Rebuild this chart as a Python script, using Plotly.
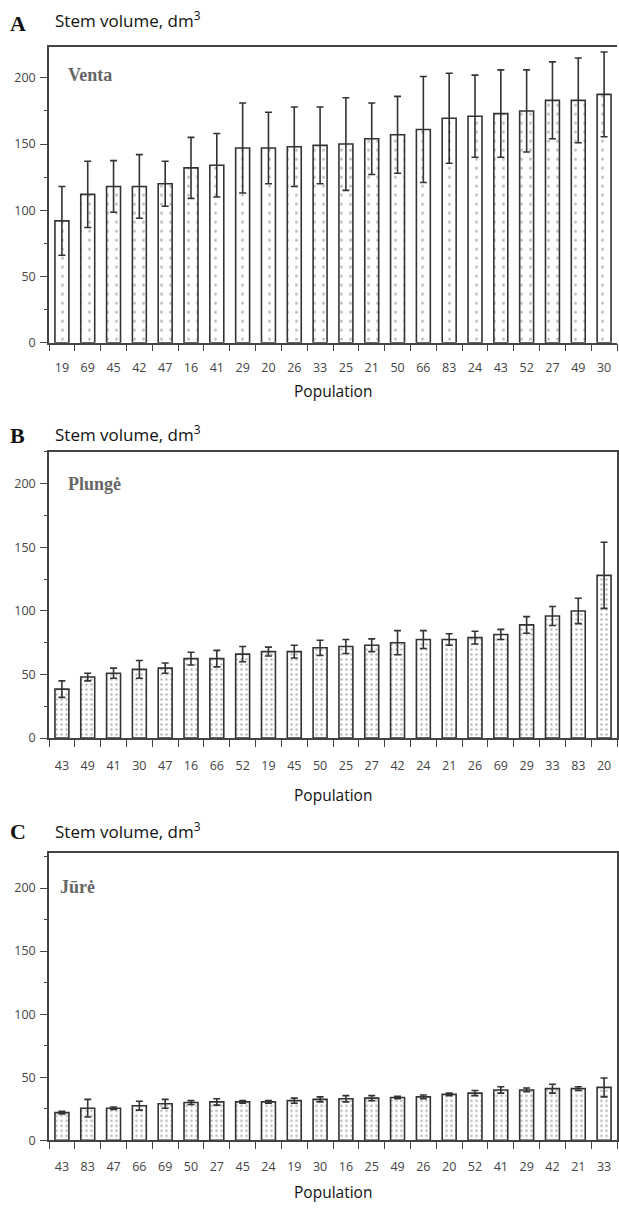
import plotly.graph_objects as go

# ---------------- data ----------------
venta_pop = ["19", "69", "45", "42", "47", "16", "41", "29", "20", "26", "33",
             "25", "21", "50", "66", "83", "24", "43", "52", "27", "49", "30"]
venta_mean = [92, 112, 118, 118, 120, 132, 134, 147, 147, 148, 149,
              150, 154, 157, 161, 169.5, 171, 173, 175, 183, 183, 187.5]
venta_err = [26, 25, 19.5, 24, 17, 23, 24, 34, 27, 30, 29,
             35, 27, 29, 40, 34, 31, 33, 31, 29, 32, 32]

plunge_pop = ["43", "49", "41", "30", "47", "16", "66", "52", "19", "45", "50",
              "25", "27", "42", "24", "21", "26", "69", "29", "33", "83", "20"]
plunge_mean = [38.5, 48, 51, 54, 55, 62.5, 62.5, 66, 68, 68, 71,
               72, 73, 75, 77.5, 77.5, 79, 81.5, 89, 96, 100, 128]
plunge_err = [6.5, 3, 4, 7, 4, 5, 6.5, 6, 3.5, 5, 6,
              5.5, 5, 9.5, 7, 4.5, 5, 4, 6.5, 7.5, 10, 26]

jure_pop = ["43", "83", "47", "66", "69", "50", "27", "45", "24", "19", "30",
            "16", "25", "49", "26", "20", "52", "41", "29", "42", "21", "33"]
jure_mean = [22, 25.5, 25.5, 27.5, 29, 30, 30.5, 30.5, 30.5, 31.5, 32.5,
             33, 33.5, 34, 34.5, 36.5, 37.5, 40, 40, 41, 41, 42]
jure_err = [1, 7, 1, 3.5, 3.5, 1.5, 2.5, 1, 1, 2, 2,
            2.5, 2, 1, 1.5, 1, 2, 2.5, 1.5, 3.5, 1.5, 7.5]

panel_letters = ["A", "B", "C"]
panel_names = ["Venta", "Plungė", "Jūrė"]
y_title = "Stem volume, dm<sup>3</sup>"
x_title = "Population"
y_ticks = [0, 50, 100, 150, 200]

# ---------------- layout geometry ----------------
W, H = 619, 1210
L, R = 49, 1


def py(p):
    return 1 - p / H


def px(p):
    return (p - L) / (W - L - R)


# (top px, bottom px, y max, x-label standoff)
panels = [
    (47, 345, 223.5, 13),
    (455, 743, 225, 15),
    (859, 1148, 227.5, 14),
]

datasets = [
    (venta_pop, venta_mean, venta_err),
    (plunge_pop, plunge_mean, plunge_err),
    (jure_pop, jure_mean, jure_err),
]

fig = go.Figure()
ink = "#333333"
tickfont = dict(family="Open Sans, DejaVu Sans, sans-serif", size=12.5, color="#444444")

pattern_sizes = [9, 5, 5]
pattern_sol = [0.08, 0.2, 0.22]

for i, ((cats, vals, errs), (top, bot, ymax, stand)) in enumerate(zip(datasets, panels)):
    n = "" if i == 0 else str(i + 1)
    fig.add_trace(go.Bar(
        x=cats, y=vals,
        xaxis="x" + n, yaxis="y" + n,
        width=0.54,
        marker=dict(
            color="white",
            line=dict(color=ink, width=1.6),
            pattern=dict(shape=".", size=pattern_sizes[i], solidity=pattern_sol[i],
                         fgcolor="#777777", bgcolor="white"),
        ),
        error_y=dict(type="data", array=errs, visible=True,
                     color=ink, thickness=1.6, width=3.5),
        showlegend=False,
        hoverinfo="skip",
    ))
    xa = dict(
        domain=[0, 1], type="category", range=[-0.5, len(cats) - 0.5],
        anchor="y" + n,
        showline=True, linecolor="#444444", linewidth=1.5, mirror=True,
        ticks="outside", tickson="boundaries", ticklen=7, tickwidth=1.2,
        tickcolor="#444444", tickfont=tickfont, showgrid=False,
        ticklabelstandoff=stand,
        fixedrange=True,
    )
    ya = dict(
        domain=[py(bot), py(top)], range=[0, ymax],
        anchor="x" + n,
        showline=True, linecolor="#444444", linewidth=1.5,
        mirror=(i > 0),
        tickvals=y_ticks, ticks="outside", ticklen=7, tickwidth=1.2,
        tickcolor="#444444", tickfont=tickfont, showgrid=False, zeroline=False,
        ticklabelstandoff=2,
        minor=dict(dtick=25, tick0=0, ticks="outside", ticklen=3,
                   tickcolor="#444444", tickwidth=1),
        fixedrange=True,
    )
    fig.update_layout(**{"xaxis" + n: xa, "yaxis" + n: ya})

annotations = []
letter_y = [24, 438, 837]
title_y = [20, 436, 836]
name_y = [75, 487, 893]
pop_y = [394, 800, 1200]
name_x = [66, 66, 58]
for i in range(3):
    annotations.append(dict(
        text="<b>" + panel_letters[i] + "</b>", xref="paper", yref="paper",
        x=px(8), y=py(letter_y[i]), xanchor="left", yanchor="middle",
        showarrow=False,
        font=dict(family="Liberation Serif, DejaVu Serif, serif", size=22,
                  color="#111111"),
    ))
    annotations.append(dict(
        text=y_title, xref="paper", yref="paper",
        x=px(53), y=py(title_y[i]), xanchor="left", yanchor="middle",
        showarrow=False,
        font=dict(family="Open Sans, sans-serif", size=17, color="#111111"),
    ))
    annotations.append(dict(
        text="<b>" + panel_names[i] + "</b>", xref="paper", yref="paper",
        x=px(name_x[i]), y=py(name_y[i]), xanchor="left", yanchor="middle",
        showarrow=False,
        font=dict(family="Liberation Serif, DejaVu Serif, serif", size=18,
                  color="#666666"),
    ))
    annotations.append(dict(
        text=x_title, xref="paper", yref="paper",
        x=px(333), y=py(pop_y[i]), xanchor="center", yanchor="middle",
        showarrow=False,
        font=dict(family="Open Sans, sans-serif", size=15.5, color="#111111"),
    ))

fig.update_layout(
    width=W, height=H,
    margin=dict(l=L, r=R, t=0, b=0, pad=0),
    paper_bgcolor="white", plot_bgcolor="white",
    annotations=annotations,
    bargap=0.46,
)

fig.write_html(
    "out.html",
    config={"displayModeBar": False},
    post_script="document.body.style.margin='0';document.body.style.overflow='hidden';",
)
